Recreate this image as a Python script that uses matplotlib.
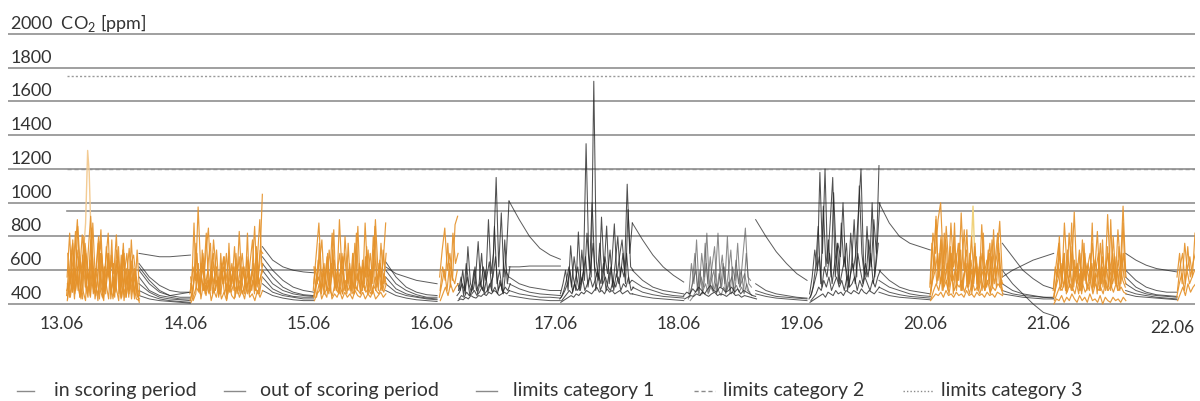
import numpy as np
import matplotlib
matplotlib.use("Agg")
import matplotlib.pyplot as plt
from matplotlib.lines import Line2D

plt.rcParams['font.family'] = ['Lato', 'DejaVu Sans']
plt.rcParams['mathtext.fontset'] = 'custom'
plt.rcParams['mathtext.rm'] = 'Lato'

# ---------------- data ----------------
day_labels = ["13.06", "14.06", "15.06", "16.06", "17.06",
              "18.06", "19.06", "20.06", "21.06", "22.06"]
y_ticks = [400, 600, 800, 1000, 1200, 1400, 1600, 1800, 2000]
limit_cat1 = 950
limit_cat2 = 1200
limit_cat3 = 1750

# scoring-period blocks: day index, start hour, end hour, traces (ppm)
score_13 = [
    [560,820,470,690,900,520,430,760,610,450,880,540,420,700,480,650,820,430,560,470,740,430,520,610,440,780,500,430,420],
    [430,650,760,540,860,610,480,420,700,920,560,450,620,840,470,520,430,690,580,810,460,640,420,560,730,470,610,450,430],
    [480,520,610,430,720,580,810,640,460,520,680,430,550,770,620,480,700,520,430,600,680,500,760,440,520,640,690,560,430],
    [700,440,560,830,480,650,560,700,520,780,470,610,800,500,420,740,560,650,490,720,530,440,580,700,480,560,430,720,450],
    [420,560,470,610,520,440,690,500,580,440,620,500,460,580,430,530,600,460,640,500,420,690,460,520,600,430,560,480,410],
    [450,600,520,780,460,540,680,430,590,720,480,520,850,460,610,540,430,700,580,460,640,520,780,450,560,620,470,540,700,440,600,520,650,460,560,440],
    [520,440,700,560,480,620,440,560,800,500,440,660,520,470,580,760,480,440,620,520,700,460,540,440,660,580,440,720,500,560,460,640,520,600,480,470],
]
score_14 = [
    [480,620,540,975,600,480,700,850,520,780,600,450,640,520,700,480,560,620,500,830,540,460,680,520,600,860,500,640,1050],
    [430,520,760,480,640,560,820,470,600,520,720,480,560,680,430,600,520,740,460,580,700,520,460,640,780,480,560,720,700],
    [420,480,600,540,460,700,520,600,480,650,520,560,460,620,540,680,470,520,640,480,560,620,500,560,480,600,700,460,560],
    [410,450,500,470,560,480,520,460,580,470,540,500,600,460,520,470,560,500,480,540,460,520,580,470,540,500,460,560,600],
    [560,420,460,640,430,520,450,540,420,480,440,520,430,470,420,510,450,430,500,440,480,430,520,440,460,420,480,440,480],
    [460,540,880,500,620,460,720,540,480,660,760,460,540,620,440,700,520,580,460,760,500,620,440,560,680,480,600,520,820,460,560,640,480,700,900,620],
    [520,460,600,700,480,560,640,460,540,500,620,700,480,540,460,600,680,500,460,560,640,480,700,540,460,620,560,480,660,520,600,460,740,520,560,640],
]
score_15 = [
    [520,700,880,560,640,480,720,560,660,500,900,580,700,520,640,480,760,540,620,480,880,560,700,520,900,600,560,640,880],
    [460,560,640,780,500,680,540,820,480,600,700,460,800,560,480,700,520,860,460,640,560,720,480,800,620,480,760,520,700],
    [440,500,560,480,600,520,460,640,560,480,560,620,500,460,600,540,480,580,520,620,480,540,600,460,560,520,640,480,560],
    [420,460,480,520,460,500,480,450,520,470,500,460,540,480,510,460,500,480,460,520,470,490,460,510,480,460,500,470,520],
    [620,440,520,430,470,440,560,430,460,440,480,430,470,440,460,430,480,450,440,470,430,460,440,480,430,450,470,440,460],
    [480,620,520,760,460,600,520,700,480,560,840,500,620,460,700,540,480,760,520,600,460,820,540,480,660,520,740,460,600,560,860,500,640,480,720,600],
    [440,520,660,500,580,460,640,540,480,720,500,560,460,620,680,480,540,600,460,700,520,480,640,560,500,680,460,600,520,720,480,560,660,500,580,520],
]
score_16 = [
    [560,720,850,600,700,540,870,920],
    [480,620,540,760,500,820,640,700],
    [440,520,600,480,640,560,520,600],
    [420,460,500,450,520,470,500,520],
]
score_20 = [
    [520,820,700,900,1000,640,780,560,880,620,700,540,940,600,720,520,800,560,640,500,870,580,660,520,780,600,700,890,560],
    [480,640,900,560,780,520,860,620,540,800,480,700,600,840,520,640,480,740,520,600,700,480,620,760,500,640,820,560,520],
    [450,540,600,700,520,640,560,480,700,540,620,760,480,560,640,500,600,520,680,480,560,620,500,560,680,520,600,700,480],
    [430,480,520,480,560,500,540,460,560,480,520,500,540,470,520,460,540,480,500,460,520,480,540,470,500,480,520,500,460],
    [420,440,460,450,470,440,480,450,460,440,470,450,460,440,480,450,460,440,470,450,460,440,470,450,460,440,470,460,450],
    [500,760,600,920,540,700,480,820,600,520,740,560,880,500,640,720,480,600,840,520,660,560,760,480,620,540,820,500,600,700,520,840,560,640,500,540],
    [460,560,680,520,620,800,480,560,640,500,700,460,600,540,760,480,560,620,500,700,460,580,640,520,680,480,600,560,720,460,560,620,500,760,520,480],
]
score_21 = [
    [500,640,760,560,700,480,820,600,945,560,720,520,680,600,540,760,600,830,520,680,560,930,600,700,520,840,620,980,600],
    [460,560,700,520,880,620,500,740,560,640,480,780,540,620,700,480,660,560,760,500,620,700,480,800,560,660,520,700,560],
    [440,500,560,640,500,600,540,480,620,520,580,460,600,520,480,640,520,580,480,620,540,480,600,520,580,480,620,540,500],
    [420,460,500,480,540,470,520,500,460,540,480,520,470,500,540,460,520,480,500,460,540,480,510,470,520,480,500,470,460],
    [400,430,420,450,410,440,420,460,430,410,450,420,440,410,460,420,430,410,450,400,440,420,410,440,420,430,410,440,420],
    [480,620,560,800,500,660,480,720,560,880,500,620,540,700,480,760,520,640,560,880,500,620,700,480,780,540,620,500,900,560,680,520,740,600,880,560],
    [440,520,640,480,560,700,460,540,600,480,660,520,460,620,540,700,480,560,640,500,580,460,680,520,600,480,740,560,500,640,520,600,480,700,560,520],
]
score_22 = [
    [560,700,520,760,600,680,560,820],
    [480,620,700,520,740,560,640,700],
    [440,520,580,480,600,520,560,600],
    [420,460,500,450,520,470,500,520],
]
score_blocks = [(0, 7.0, 21.0, score_13), (1, 7.0, 21.0, score_14),
                (2, 7.0, 21.0, score_15), (3, 7.5, 11.0, score_16),
                (7, 7.0, 21.0, score_20), (8, 7.0, 21.0, score_21),
                (9, 7.0, 10.5, score_22)]

# single pale sensor spikes (hour of day, ppm)
pale_13_h = [10.0, 10.6, 11.0, 11.3, 11.7, 12.3]
pale_13_v = [620, 880, 1310, 1180, 760, 560]
pale_20_h = [14.5, 15.0, 15.3, 15.6, 16.2]
pale_20_v = [600, 760, 980, 720, 560]

# out-of-scoring daytime traces
out_16 = [
    [520,480,600,460,740,520,480,560,770,500,620,540,900,580,700,1150,620,940,560,700,1010],
    [480,560,450,640,520,470,600,480,520,700,470,560,650,480,860,520,600,480,780,520,620],
    [450,470,520,480,560,450,500,620,460,530,480,600,470,520,560,680,480,520,460,600,560],
    [430,450,440,470,450,460,480,450,470,500,460,480,520,470,500,460,540,470,500,480,520],
    [420,430,425,440,430,450,440,435,450,445,460,450,470,460,480,470,450,460,470,460,480],
]
out_17 = [
    [460,520,600,480,745,560,480,827,520,600,1350,700,560,1720,650,540,915,600,862,520,640,875,560,680,780,600,1110,700,880],
    [440,480,540,620,500,680,560,480,720,540,820,600,1000,620,560,760,520,680,580,720,500,640,800,560,700,520,960,620,600],
    [430,450,480,520,600,470,540,620,480,560,680,500,620,760,480,580,520,640,480,560,620,480,580,520,620,560,700,520,540],
    [420,440,460,480,460,520,480,500,560,480,520,560,500,540,600,480,520,560,500,480,540,500,560,480,520,500,560,480,500],
    [410,420,430,440,450,440,460,450,470,460,480,470,460,480,500,470,480,460,490,470,480,460,470,480,460,470,480,460,460],
]
out_18_base = [
    [450,470,460,490,470,500,480,460,490,510,480,470,500,490,470,480,500,470,490,460,480,470,460,450,445],
    [430,440,450,445,460,450,470,455,445,460,470,450,460,455,445,460,470,450,455,440,450,445,440,435,430],
]
out_18 = [
    [460,640,520,780,480,700,560,820,500,620,740,480,560,690,520,800,460,620,540,760,500,680,850,560,540],
    [440,520,700,480,600,460,760,520,680,480,560,820,500,640,460,580,720,480,660,520,600,480,700,520,500],
    [430,480,540,600,460,560,500,640,470,540,600,460,580,500,620,480,520,560,460,600,500,540,580,480,470],
    [420,440,470,500,450,480,520,460,500,470,520,480,450,500,470,530,460,490,510,470,500,460,520,470,450],
]
out_19 = [
    [460,560,720,600,1180,700,1200,640,880,1150,560,760,680,1000,620,540,820,600,700,950,1200,640,560,780,620,900,700,1220],
    [440,500,620,860,520,980,620,780,560,1060,700,520,880,620,760,500,640,900,560,1100,700,560,860,600,1000,560,760,1000],
    [430,460,520,580,680,500,620,560,700,520,640,760,520,600,680,480,560,640,520,700,600,520,640,560,700,520,620,760],
    [420,440,460,500,480,540,500,560,480,520,560,500,540,480,560,500,520,560,480,540,500,560,520,480,540,500,560,600],
    [410,420,430,440,450,460,440,470,460,450,480,460,470,450,480,470,460,480,470,460,490,470,460,480,470,460,480,500],
]
out_blocks = [(3, 11.0, 21.0, out_16), (4, 7.0, 21.0, out_17),
              (5, 7.0, 21.0, out_18_base), (6, 7.5, 21.0, out_19)]
light_blocks = [(5, 8.0, 20.0, out_18)]

# night traces: 21h -> 07h next morning
night_13 = [[700,690,680,680,685,690],[640,560,510,480,470,470],[600,520,470,450,440,440],
            [560,480,450,440,430,430],[520,470,440,430,425,420],[480,450,430,420,415,410],
            [450,430,420,415,410,405],[620,540,480,450,460,470]]
night_14 = [[740,660,620,600,590,585],[680,600,540,500,480,470],[640,560,500,470,455,450],
            [600,520,480,460,450,445],[560,490,460,445,440,440],[520,470,450,440,430,430],
            [480,450,435,425,420,420]]
night_15 = [[650,560,500,470,455,450],[600,520,480,455,440,440],[560,490,460,445,435,430],
            [520,470,450,440,430,425],[480,450,435,425,420,415],[620,580,560,540,530,520]]
night_16 = [[1010,900,800,730,690,665],[620,620,625,625,625,625],[560,520,500,490,480,480],
            [520,490,470,460,455,450],[480,460,450,440,440,435],[450,440,430,425,420,420]]
night_17 = [[880,780,690,620,570,530],[600,540,500,480,470,460],[540,500,480,460,450,445],
            [500,470,455,445,440,435],[460,445,435,430,425,420]]
night_18 = [[900,800,710,640,580,540],[520,480,460,450,440,435],[480,460,445,440,435,430],
            [460,445,435,430,425,420]]
night_19 = [[1000,880,800,760,740,720],[600,540,500,480,470,460],[540,500,480,460,450,445],
            [500,470,455,445,440,435],[470,450,440,435,430,425]]
night_20 = [[760,680,600,550,510,490],[560,600,630,660,680,700],[600,520,460,400,350,330],
            [520,480,460,450,440,440],[480,460,450,445,440,435],[460,450,440,435,430,430]]
night_21 = [[700,660,630,610,600,590],[600,540,500,480,470,470],[560,500,470,455,450,445],
            [520,480,460,450,445,440],[480,460,450,440,435,430],[460,445,440,435,430,425]]
night_blocks = [(0, night_13), (1, night_14), (2, night_15), (3, night_16), (4, night_17),
                (5, night_18), (6, night_19), (7, night_20), (8, night_21)]

# ---------------- figure ----------------
W, H = 1200, 402
fig = plt.figure(figsize=(W / 100, H / 100), dpi=100)
ymin, ymax = 320, 2050
ax = fig.add_axes([8 / W, 1 - 318.5 / H, 1187 / W, (318.5 - 26.56) / H])
ax.set_xlim(-4.5, 226.5)
ax.set_ylim(ymin, ymax)
for s in ax.spines.values():
    s.set_visible(False)
ax.set_xticks([])
ax.set_yticks([])

grid_c = '#8f8f8f'
for v in y_ticks:
    ax.axhline(v, color=grid_c, lw=1.2, zorder=1)
    lab = "2000  CO$_\\mathregular{2}$ [ppm]" if v == 2000 else str(v)
    ax.annotate(lab, xy=(0.002, v), xycoords=('axes fraction', 'data'),
                xytext=(0, 6), textcoords='offset pixels', va='baseline',
                ha='left', fontsize=13, color='#333333')

data_start = 7.0
ax.plot([data_start, 226.5], [limit_cat1, limit_cat1], color=grid_c, lw=1.2, zorder=1)
ax.plot([data_start, 226.5], [limit_cat2, limit_cat2], color=grid_c, lw=1.0,
        ls=(0, (3, 2)), zorder=0.5)
ax.plot([data_start, 226.5], [limit_cat3, limit_cat3], color='#9a9a9a', lw=1.0,
        ls=(0, (1.5, 1.5)), zorder=1)

shifts = [0.0, 0.17, -0.12, 0.26, 0.08, -0.2, 0.13]

gray_c = '#262626'
for d, traces in night_blocks:
    for vals in traces:
        t = d * 24 + np.linspace(21.0, 31.0, len(vals))
        ax.plot(t, vals, color=gray_c, lw=0.7, alpha=0.75, zorder=2)

for d, h0, h1, traces in light_blocks:
    for k, vals in enumerate(traces):
        t = d * 24 + np.linspace(h0, h1, len(vals)) + shifts[k]
        ax.plot(t, vals, color='#5a5a5a', lw=0.75, alpha=0.7, zorder=2)

for d, h0, h1, traces in out_blocks:
    for k, vals in enumerate(traces):
        t = d * 24 + np.linspace(h0, h1, len(vals)) + shifts[k]
        ax.plot(t, vals, color=gray_c, lw=0.75, alpha=0.8, zorder=2.1)

orange = '#E5922A'
for d, h0, h1, traces in score_blocks:
    for k, vals in enumerate(traces):
        t = d * 24 + np.linspace(h0, h1, len(vals)) + shifts[k] * 0.5
        ax.plot(t, vals, color=orange, lw=0.85, alpha=0.92, zorder=3)

ax.plot(0 * 24 + np.array(pale_13_h), pale_13_v, color='#F3CB93', lw=1.0, zorder=2.5)
ax.plot(7 * 24 + np.array(pale_20_h), pale_20_v, color='#F0D27A', lw=1.0, zorder=2.5)

for i, lab in enumerate(day_labels):
    off = -15 if i == len(day_labels) - 1 else -11
    ax.annotate(lab, xy=(6 + 24 * i, 400), xycoords='data', xytext=(0, off),
                textcoords='offset pixels', ha='center', va='top',
                fontsize=12.5, color='#333333')

# legend
leg_items = [("in scoring period", '-', 17, 34, 54),
             ("out of scoring period", '-', 224, 245, 260),
             ("limits category 1", '-', 476, 497, 513),
             ("limits category 2", (0, (3, 2)), 694, 715, 723),
             ("limits category 3", (0, (1, 1.5)), 903, 933, 941)]
ly = 392
for text, ls, x0, x1, xt in leg_items:
    fig.add_artist(Line2D([x0 / W, x1 / W], [1 - ly / H, 1 - ly / H],
                          transform=fig.transFigure, color='#8a8a8a', lw=1.0, ls=ls))
    fig.text(xt / W, 1 - (ly - 1) / H, text, ha='left', va='center', fontsize=14,
             color='#333333')

fig.savefig("out.png", dpi=100)
